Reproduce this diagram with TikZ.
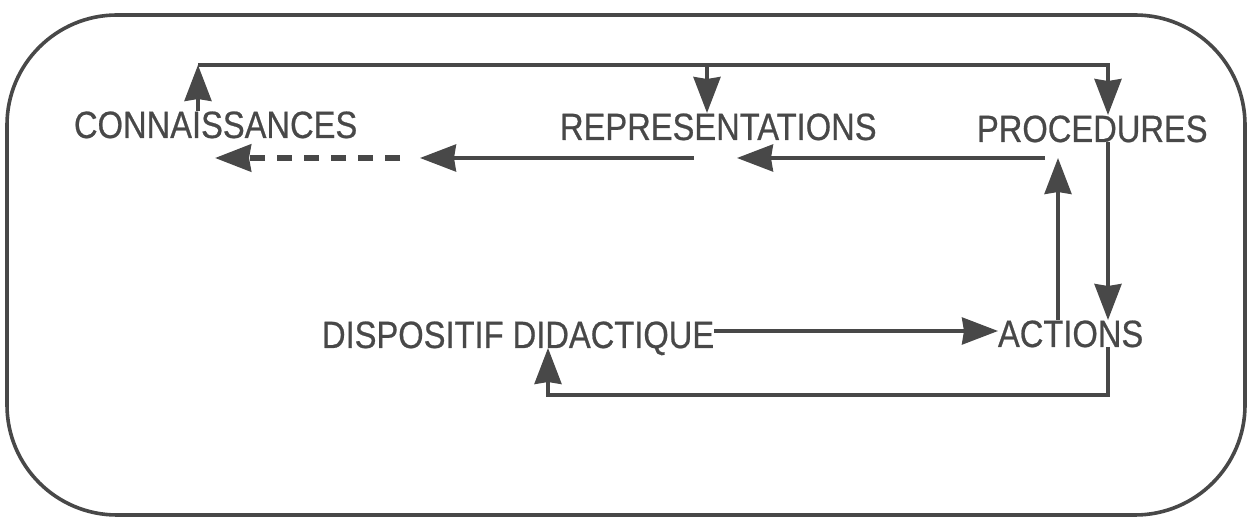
\documentclass[tikz,border=0pt]{standalone}
\usepackage{fontspec}
\newfontfamily\lbl[FakeStretch=0.86, FakeBold=0.6]{Liberation Sans}
\usetikzlibrary{arrows.meta}
\definecolor{ink}{RGB}{72,72,72}
\tikzset{
  lab/.style={anchor=base west, inner sep=0pt, outer sep=0pt, text height=13.5pt, text depth=0pt,
              font=\lbl\fontsize{19pt}{22pt}\selectfont, text=ink},
  wire/.style={draw=ink, line width=1.7pt},
  tip/.style={-{Stealth[length=18pt, width=13.5pt, inset=1pt]}},
  arr/.style={wire, tip},
  darr/.style={draw=ink, line width=2.6pt, dash pattern=on 7.5pt off 6pt, tip}
}
\begin{document}
\begin{tikzpicture}[x=0.5pt, y=-0.5pt]
\useasboundingbox (0,0) rectangle (1248,517);
% outer frame
\draw[draw=ink, line width=1.8pt, rounded corners=55pt] (7,15) rectangle (1245,515);

% labels
\node[lab] (conn) at (74,138) {CONNAISSANCES};
\node[lab] (repr) at (560,140) {REPRESENTATIONS};
\node[lab] (proc) at (977,142) {PROCEDURES};
\node[lab] (disp) at (322,348) {DISPOSITIF DIDACTIQUE};
\node[lab] (act)  at (998,347) {ACTIONS};

% routing coordinates
\coordinate (xc) at (198,0);
\coordinate (xr) at (707,0);
\coordinate (xp) at (1108,0);
\coordinate (xu) at (1058,0);
\coordinate (xd) at (548,0);
\coordinate (bus) at (0,65);
\coordinate (row) at (0,158);
\coordinate (mid) at (0,331);
\coordinate (low) at (0,395);
\coordinate (r0) at (1045,158);
\coordinate (r1) at (737,158);
\coordinate (r2) at (694,158);
\coordinate (r3) at (420,158);
\coordinate (r4) at (400,158);
\coordinate (r5) at (215,158);

% top loop
\draw[arr] (conn.north -| xc) -- (xc |- bus);
\draw[arr] (xc |- bus) -- (xp |- bus) -- (proc.north -| xp);
\draw[arr] (xr |- bus) -- (repr.north -| xr);

% right side
\draw[arr] (proc.south -| xp) -- (act.north -| xp);
\draw[arr] (act.north -| xu) -- (xu |- row);

% middle row
\draw[arr] (r0) -- (r1);
\draw[arr] (r2) -- (r3);
\draw[darr] (r4) -- (r5);

% bottom
\draw[arr] (disp.east |- mid) -- (act.west |- mid);
\draw[arr] (act.south -| xp) -- (xp |- low) -- (xd |- low) -- (disp.south -| xd);
\end{tikzpicture}
\end{document}
